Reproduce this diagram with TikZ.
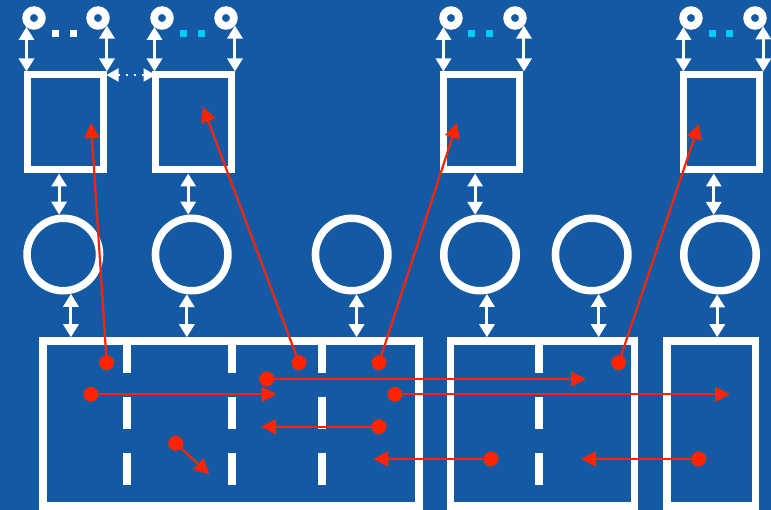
\documentclass[tikz,border=0pt]{standalone}
\usetikzlibrary{arrows.meta,calc}
\definecolor{bg}{RGB}{20,89,164}
\definecolor{rd}{RGB}{255,36,0}
\definecolor{cy}{RGB}{0,204,255}
\begin{document}
\begin{tikzpicture}[x=1pt,y=-1pt,
  wbox/.style={draw=white,line width=7pt,minimum width=76pt,minimum height=95pt,inner sep=0pt},
  lbox/.style={draw=white,line width=7.5pt,minimum height=165pt,inner sep=0pt},
  ring/.style={circle,draw=white,line width=7.7pt,minimum size=15.7pt,inner sep=0pt},
  proc/.style={circle,draw=white,line width=7.5pt,minimum size=72.5pt,inner sep=0pt},
  sq/.style={rectangle,fill=#1,minimum size=7pt,inner sep=0pt},
  rdot/.style={circle,fill=rd,minimum size=15pt,inner sep=0pt,outer sep=0pt},
  wdbl/.style={draw=white,line width=3pt,{Triangle[length=13pt,width=15pt]}-{Triangle[length=13pt,width=15pt]}},
  wdot/.style={draw=white,line width=2pt,dash pattern=on 2pt off 6pt,{Triangle[length=12pt,width=13pt]}-{Triangle[length=12pt,width=13pt]}},
  rarr/.style={draw=rd,line width=2.2pt,-{Triangle[length=15pt,width=15pt]}},
  divider/.style={draw=white,line width=8pt,dash pattern=on 32pt off 24pt}]
\useasboundingbox (0,0) rectangle (771,510);
\fill[bg] (0,0) rectangle (771,510);

% top boxes
\node[wbox] (b1) at (65,122.5) {};
\node[wbox] (b2) at (193.5,122.5) {};
\node[wbox] (b3) at (481,122.5) {};
\node[wbox] (b4) at (721.5,122.5) {};

% rings
\node[ring] (r1) at (34,18) {};
\node[ring] (r2) at (98,18) {};
\node[ring] (r3) at (162,18) {};
\node[ring] (r4) at (226,18) {};
\node[ring] (r5) at (451,18) {};
\node[ring] (r6) at (515,18) {};
\node[ring] (r7) at (691,18) {};
\node[ring] (r8) at (755,18) {};

% dots between rings
\node[sq=white] (q1) at (55.5,33.5) {};
\node[sq=white] (q2) at (73.5,33.5) {};
\node[sq=cy] (q3) at (183.5,33.5) {};
\node[sq=cy] (q4) at (201.5,33.5) {};
\node[sq=cy] (q5) at (471.5,33.5) {};
\node[sq=cy] (q6) at (489.5,33.5) {};
\node[sq=cy] (q7) at (712,33.5) {};
\node[sq=cy] (q8) at (729.5,33.5) {};

% process circles
\node[proc] (c1) at (63.3,254.5) {};
\node[proc] (c2) at (191.7,254.5) {};
\node[proc] (c3) at (351.7,254.5) {};
\node[proc] (c4) at (480,254.5) {};
\node[proc] (c5) at (591.7,254.5) {};
\node[proc] (c6) at (720,254.5) {};

% bottom boxes
\node[lbox,minimum width=376pt] (L1) at (231,423.5) {};
\node[lbox,minimum width=184pt] (L2) at (542.6,423.5) {};
\node[lbox,minimum width=88.5pt] (L3) at (711.2,423.5) {};

% dividers
\draw[divider] (126.7,341) -- (126.7,485);
\draw[divider] (232,341) -- (232,485);
\draw[divider] (322.3,341) -- (322.3,485);
\draw[divider] (539,341) -- (539,485);

% ring - box arrows
\draw[wdbl] (r1.-130) -- (r1.-130 |- b1.north);
\draw[wdbl] (r2.-40) -- (r2.-40 |- b1.north);
\draw[wdbl] (r3.-130) -- (r3.-130 |- b2.north);
\draw[wdbl] (r4.-40) -- (r4.-40 |- b2.north);
\draw[wdbl] (r5.-130) -- (r5.-130 |- b3.north);
\draw[wdbl] (r6.-40) -- (r6.-40 |- b3.north);
\draw[wdbl] (r7.-130) -- (r7.-130 |- b4.north);
\draw[wdbl] (r8.-45) -- (r8.-45 |- b4.north);

% dotted arrow between boxes 1 and 2
\draw[wdot] ($(b1.north east)+(0,3.5)$) -- ($(b2.north west)+(3.5,3.5)$);

% box - circle arrows
\draw[wdbl] (c1.96) -- (c1.96 |- b1.south);
\draw[wdbl] (c2.95) -- (c2.95 |- b2.south);
\draw[wdbl] (c4.97) -- (c4.97 |- b3.south);
\draw[wdbl] (c6.99) -- (c6.99 |- b4.south);

% circle - bottom box arrows
\draw[wdbl] (c1.-79) -- (c1.-79 |- L1.north);
\draw[wdbl] (c2.-97) -- (c2.-97 |- L1.north);
\draw[wdbl] (c3.-83) -- (c3.-83 |- L1.north);
\draw[wdbl] (c4.-80) -- (c4.-80 |- L2.north);
\draw[wdbl] (c5.-80) -- (c5.-80 |- L2.north);
\draw[wdbl] (c6.-94) -- (c6.-94 |- L3.north);

% red dots
\node[rdot] (d1) at (106.7,362.7) {};
\node[rdot] (d2) at (299,362.7) {};
\node[rdot] (d3) at (379,362.7) {};
\node[rdot] (d4) at (618.7,362.7) {};
\node[rdot] (d5) at (266.7,379) {};
\node[rdot] (d6) at (91,394.3) {};
\node[rdot] (d7) at (395,394.3) {};
\node[rdot] (d8) at (379,426.7) {};
\node[rdot] (d9) at (175.7,443.3) {};
\node[rdot] (d10) at (491,459) {};
\node[rdot] (d11) at (698.7,459) {};

% arrow end points
\coordinate (e1) at (91,123);
\coordinate (e2) at (203,107);
\coordinate (e3) at (457,123);
\coordinate (e4) at (699,124);
\coordinate (e5) at (586,379);
\coordinate (e6) at (276.7,394.3);
\coordinate (e7) at (730,394.3);
\coordinate (e8) at (261,426.7);
\coordinate (e9) at (209.3,474.3);
\coordinate (e10) at (373.3,459);
\coordinate (e11) at (581,459);

\foreach \i in {1,...,11} {\draw[rarr] (d\i) -- (e\i);}
\end{tikzpicture}
\end{document}
